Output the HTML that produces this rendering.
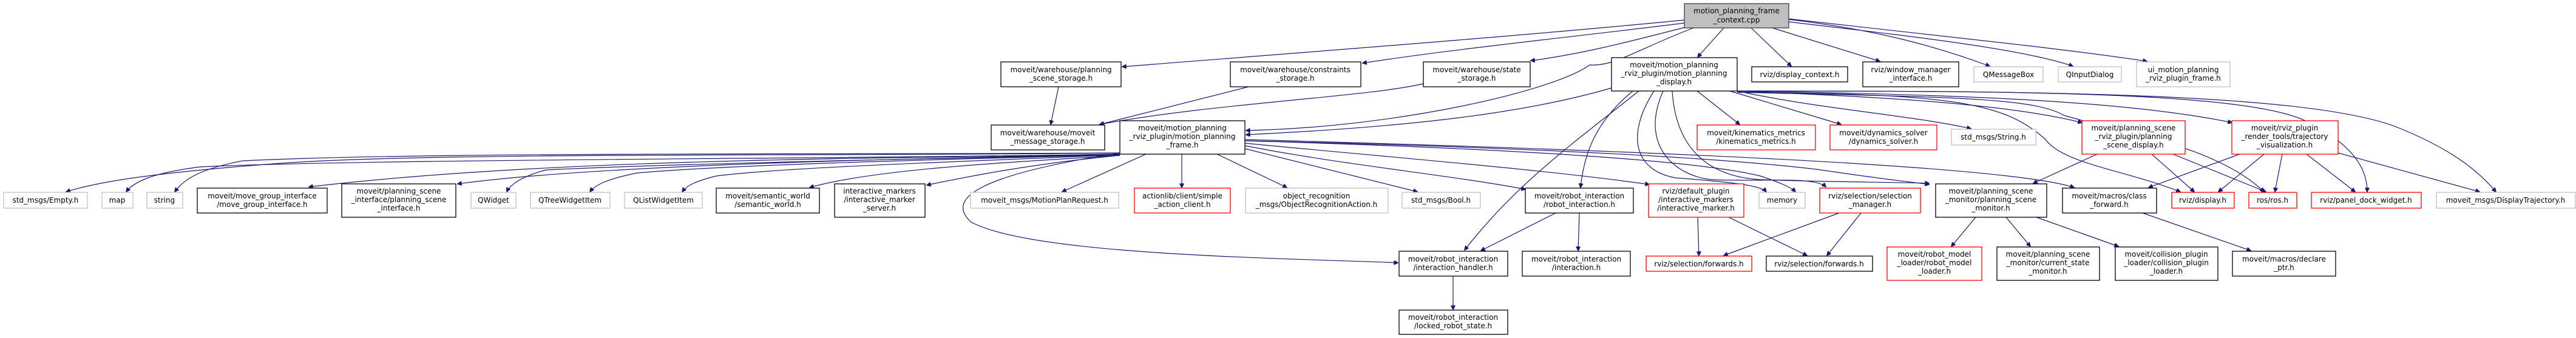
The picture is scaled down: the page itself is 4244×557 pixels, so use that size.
<!DOCTYPE html>
<html><head><meta charset="utf-8"><style>
html,body{margin:0;padding:0;background:#fff;}
svg{display:block;}
text{font-family:"DejaVu Sans","Liberation Sans",sans-serif;font-size:12px;fill:#000;text-anchor:middle;}
.k{fill:#fff;stroke:#000;stroke-width:1.3}
.g{fill:#fff;stroke:#bfbfbf;stroke-width:1.3}
.r{fill:#fff;stroke:#ff0000;stroke-width:1.3}
path{fill:none;stroke:#191970;stroke-width:1.2;marker-end:url(#a)}
</style></head><body>
<svg width="4244" height="557" viewBox="0 0 4244 557" xmlns="http://www.w3.org/2000/svg">
<defs><marker id="a" viewBox="0 0 10 10" refX="9" refY="5" markerWidth="9" markerHeight="7" markerUnits="userSpaceOnUse" orient="auto"><path d="M0,0 L10,5 L0,10 z" style="fill:#191970;stroke:#191970;marker-end:none"/></marker></defs>

<!-- edges from root -->
<path d="M2775,33 C2500,60 2100,90 1849,110"/>
<path d="M2775,38 C2600,60 2400,80 2245,104"/>
<path d="M2780,44 C2680,70 2600,90 2522,100"/>
<path d="M2790,46 C2700,80 2660,110 2619,107 C2560,150 2300,210 2053,215"/>
<path d="M2840,46 L2797,94"/>
<path d="M2885,46 L2951,109"/>
<path d="M2920,46 L3097,101"/>
<path d="M2947,32 C3100,50 3200,80 3278,109"/>
<path d="M2947,36 C3150,60 3330,80 3415,109"/>
<path d="M2947,31 C3200,60 3400,80 3537,101"/>

<!-- storage -->
<path d="M1744,143 L1731,205"/>
<path d="M2057,143 L1812,205"/>
<path d="M2345,138 C2250,160 2000,170 1812,205"/>
<path d="M2655,145 C2500,190 2300,210 2053,222"/>

<!-- frame.h left fan -->
<path d="M1845,252 C1400,258 700,250 450,270 C250,285 160,300 109,316"/>
<path d="M1845,254 C1400,262 600,262 330,275 C250,285 220,300 208,316"/>
<path d="M1845,252 C1400,255 700,250 400,265 C320,280 300,300 288,316"/>
<path d="M1845,254 C1400,262 900,262 509,308"/>
<path d="M1845,254 C1500,262 1000,270 754,303"/>
<path d="M1845,255 C1500,262 1100,270 900,280 C860,290 840,305 835,316"/>
<path d="M1845,255 C1500,264 1200,272 1050,285 C1000,295 980,305 972,316"/>
<path d="M1845,255 C1600,266 1300,275 1180,290 C1140,300 1130,308 1124,316"/>
<path d="M1845,256 C1700,266 1450,276 1334,309"/>
<path d="M1845,256 C1700,270 1600,290 1527,305"/>
<path d="M1888,254 L1750,316"/>
<path d="M1947,254 L1947,309"/>
<path d="M2005,254 L2120,309"/>
<path d="M2051,245 L2335,316"/>
<path d="M2051,240 C2200,270 2400,290 2513,312"/>
<path d="M2051,236 C2300,260 2550,280 2717,304"/>
<path d="M2051,232 C2400,240 2800,255 3000,280 C3100,295 3150,300 3178,304"/>
<path d="M2051,232 C2500,245 2800,265 2900,290 C2930,300 2950,308 2958,316"/>
<path d="M2051,230 C2600,245 3300,270 3417,309"/>
<path d="M1845,252 C1600,290 1560,330 1600,366 C1700,420 2100,425 2303,433"/>

<!-- display.h -->
<path d="M2700,150 C2600,230 2500,300 2413,412"/>
<path d="M2690,150 C2630,200 2610,250 2604,309"/>
<path d="M2725,150 C2680,220 2690,280 2760,293 C2850,300 2900,305 2910,316"/>
<path d="M2740,150 C2700,240 2760,290 2820,296 C2900,300 2990,290 3008,308"/>
<path d="M2755,150 C2760,230 2800,290 2900,296 C3000,300 3120,300 3178,302"/>
<path d="M2796,150 L2866,205"/>
<path d="M2850,150 L3033,205"/>
<path d="M2862,150 C3000,180 3150,190 3247,212"/>
<path d="M2862,150 C3100,160 3300,170 3430,202"/>
<path d="M2862,150 C3200,155 3500,165 3677,202"/>
<path d="M2862,152 C3200,155 3300,165 3370,230 C3400,270 3500,280 3592,316"/>
<path d="M2862,152 C3200,160 3350,160 3400,190 C3500,220 3650,240 3730,316"/>
<path d="M2862,150 C3300,150 3700,150 3800,200 C3880,240 3900,280 3900,316"/>
<path d="M2862,150 C3300,150 3800,150 3950,210 C4050,250 4090,290 4112,316"/>

<!-- planning_scene_display / trajectory -->
<path d="M3455,254 L3350,302"/>
<path d="M3545,254 L3615,316"/>
<path d="M3580,254 L3733,316"/>
<path d="M3690,254 L3540,309"/>
<path d="M3730,254 L3655,316"/>
<path d="M3760,254 L3748,316"/>
<path d="M3800,254 L3880,316"/>
<path d="M3852,252 L4085,316"/>

<!-- lower -->
<path d="M3255,358 L3215,406"/>
<path d="M3305,358 L3345,406"/>
<path d="M3355,358 L3490,406"/>
<path d="M3530,351 L3708,413"/>
<path d="M2563,351 L2440,413"/>
<path d="M2602,351 L2600,413"/>
<path d="M2394,455 L2394,510"/>
<path d="M2797,358 L2799,421"/>
<path d="M2848,358 L2977,421"/>
<path d="M3030,351 L2840,421"/>
<path d="M3066,351 L3010,421"/>

<!-- nodes -->
<rect x="2775" y="6" width="172" height="40" style="fill:#bfbfbf;stroke:#404040;stroke-width:1.3"/>
<text x="2861" y="22">motion_planning_frame</text><text x="2861" y="37">_context.cpp</text>

<rect class="k" x="1649" y="102" width="198" height="41"/><text x="1748" y="119">moveit/warehouse/planning</text><text x="1748" y="133">_scene_storage.h</text>
<rect class="k" x="2027" y="102" width="215" height="41"/><text x="2134" y="119">moveit/warehouse/constraints</text><text x="2134" y="133">_storage.h</text>
<rect class="k" x="2345" y="102" width="176" height="41"/><text x="2433" y="119">moveit/warehouse/state</text><text x="2433" y="133">_storage.h</text>
<rect class="k" x="2655" y="95" width="207" height="55"/><text x="2758" y="111">moveit/motion_planning</text><text x="2758" y="125">_rviz_plugin/motion_planning</text><text x="2758" y="139">_display.h</text>
<rect class="k" x="2886" y="110" width="158" height="25"/><text x="2965" y="127">rviz/display_context.h</text>
<rect class="k" x="3069" y="102" width="158" height="41"/><text x="3148" y="119">rviz/window_manager</text><text x="3148" y="133">_interface.h</text>
<rect class="g" x="3252" y="110" width="114" height="25"/><text x="3309" y="127">QMessageBox</text>
<rect class="g" x="3391" y="110" width="104" height="25"/><text x="3443" y="127">QInputDialog</text>
<rect class="g" x="3520" y="102" width="154" height="41"/><text x="3597" y="119">ui_motion_planning</text><text x="3597" y="133">_rviz_plugin_frame.h</text>

<rect class="k" x="1633" y="206" width="187" height="41"/><text x="1726" y="223">moveit/warehouse/moveit</text><text x="1726" y="237">_message_storage.h</text>
<rect class="k" x="1845" y="199" width="206" height="55"/><text x="1948" y="215">moveit/motion_planning</text><text x="1948" y="229">_rviz_plugin/motion_planning</text><text x="1948" y="243">_frame.h</text>
<rect class="r" x="2796" y="206" width="195" height="41"/><text x="2893" y="223">moveit/kinematics_metrics</text><text x="2893" y="237">/kinematics_metrics.h</text>
<rect class="r" x="3015" y="206" width="176" height="41"/><text x="3103" y="223">moveit/dynamics_solver</text><text x="3103" y="237">/dynamics_solver.h</text>
<rect class="g" x="3215" y="213" width="139" height="26"/><text x="3284" y="230">std_msgs/String.h</text>
<rect class="r" x="3430" y="199" width="170" height="55"/><text x="3515" y="215">moveit/planning_scene</text><text x="3515" y="229">_rviz_plugin/planning</text><text x="3515" y="243">_scene_display.h</text>
<rect class="r" x="3677" y="199" width="175" height="55"/><text x="3764" y="215">moveit/rviz_plugin</text><text x="3764" y="229">_render_tools/trajectory</text><text x="3764" y="243">_visualization.h</text>

<rect class="g" x="6" y="317" width="138" height="26"/><text x="75" y="334">std_msgs/Empty.h</text>
<rect class="g" x="168" y="317" width="51" height="26"/><text x="193" y="334">map</text>
<rect class="g" x="242" y="317" width="59" height="26"/><text x="271" y="334">string</text>
<rect class="k" x="325" y="310" width="214" height="41"/><text x="432" y="327">moveit/move_group_interface</text><text x="432" y="341">/move_group_interface.h</text>
<rect class="k" x="563" y="303" width="188" height="55"/><text x="657" y="319">moveit/planning_scene</text><text x="657" y="333">_interface/planning_scene</text><text x="657" y="347">_interface.h</text>
<rect class="g" x="776" y="317" width="74" height="26"/><text x="813" y="334">QWidget</text>
<rect class="g" x="874" y="317" width="131" height="26"/><text x="939" y="334">QTreeWidgetItem</text>
<rect class="g" x="1029" y="317" width="128" height="26"/><text x="1093" y="334">QListWidgetItem</text>
<rect class="k" x="1180" y="310" width="170" height="41"/><text x="1265" y="327">moveit/semantic_world</text><text x="1265" y="341">/semantic_world.h</text>
<rect class="k" x="1375" y="303" width="149" height="55"/><text x="1449" y="319">interactive_markers</text><text x="1449" y="333">/interactive_marker</text><text x="1449" y="347">_server.h</text>
<rect class="g" x="1599" y="317" width="244" height="26"/><text x="1721" y="334">moveit_msgs/MotionPlanRequest.h</text>
<rect class="r" x="1869" y="310" width="158" height="41"/><text x="1948" y="327">actionlib/client/simple</text><text x="1948" y="341">_action_client.h</text>
<rect class="g" x="2052" y="310" width="235" height="41"/><text x="2169" y="327">object_recognition</text><text x="2169" y="341">_msgs/ObjectRecognitionAction.h</text>
<rect class="g" x="2310" y="317" width="129" height="26"/><text x="2374" y="334">std_msgs/Bool.h</text>
<rect class="k" x="2513" y="310" width="178" height="41"/><text x="2602" y="327">moveit/robot_interaction</text><text x="2602" y="341">/robot_interaction.h</text>
<rect class="r" x="2716" y="303" width="157" height="55"/><text x="2794" y="319">rviz/default_plugin</text><text x="2794" y="333">/interactive_markers</text><text x="2794" y="347">/interactive_marker.h</text>
<rect class="g" x="2898" y="317" width="76" height="26"/><text x="2936" y="334">memory</text>
<rect class="r" x="2998" y="310" width="166" height="41"/><text x="3081" y="327">rviz/selection/selection</text><text x="3081" y="341">_manager.h</text>
<rect class="k" x="3189" y="303" width="183" height="55"/><text x="3280" y="319">moveit/planning_scene</text><text x="3280" y="333">_monitor/planning_scene</text><text x="3280" y="347">_monitor.h</text>
<rect class="k" x="3398" y="310" width="155" height="41"/><text x="3475" y="327">moveit/macros/class</text><text x="3475" y="341">_forward.h</text>
<rect class="r" x="3578" y="317" width="103" height="26"/><text x="3629" y="334">rviz/display.h</text>
<rect class="r" x="3705" y="317" width="79" height="26"/><text x="3744" y="334">ros/ros.h</text>
<rect class="r" x="3808" y="317" width="181" height="26"/><text x="3898" y="334">rviz/panel_dock_widget.h</text>
<rect class="g" x="4014" y="317" width="229" height="26"/><text x="4128" y="334">moveit_msgs/DisplayTrajectory.h</text>

<rect class="k" x="2305" y="414" width="179" height="41"/><text x="2394" y="431">moveit/robot_interaction</text><text x="2394" y="445">/interaction_handler.h</text>
<rect class="k" x="2508" y="414" width="178" height="41"/><text x="2597" y="431">moveit/robot_interaction</text><text x="2597" y="445">/interaction.h</text>
<rect class="r" x="2712" y="422" width="174" height="25"/><text x="2799" y="439">rviz/selection/forwards.h</text>
<rect class="k" x="2910" y="422" width="175" height="25"/><text x="2997" y="439">rviz/selection/forwards.h</text>
<rect class="r" x="3109" y="407" width="156" height="55"/><text x="3187" y="423">moveit/robot_model</text><text x="3187" y="437">_loader/robot_model</text><text x="3187" y="451">_loader.h</text>
<rect class="k" x="3290" y="407" width="169" height="55"/><text x="3374" y="423">moveit/planning_scene</text><text x="3374" y="437">_monitor/current_state</text><text x="3374" y="451">_monitor.h</text>
<rect class="k" x="3485" y="407" width="169" height="55"/><text x="3569" y="423">moveit/collision_plugin</text><text x="3569" y="437">_loader/collision_plugin</text><text x="3569" y="451">_loader.h</text>
<rect class="k" x="3678" y="414" width="170" height="41"/><text x="3763" y="431">moveit/macros/declare</text><text x="3763" y="445">_ptr.h</text>
<rect class="k" x="2305" y="511" width="179" height="40"/><text x="2394" y="527">moveit/robot_interaction</text><text x="2394" y="541">/locked_robot_state.h</text>
</svg>
</body></html>
